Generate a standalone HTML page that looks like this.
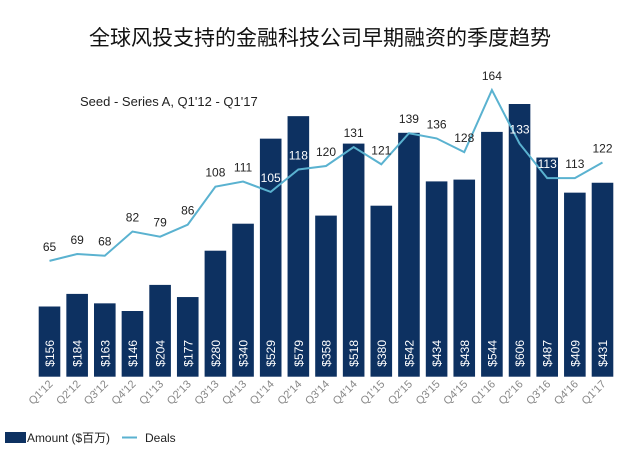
<!DOCTYPE html>
<html><head><meta charset="utf-8"><style>
body{margin:0;background:#fff;}
svg{display:block;font-family:"Liberation Sans","Noto Sans CJK SC",sans-serif;}
</style></head><body>
<svg id="c" width="640" height="455">
<text x="320" y="45" text-anchor="middle" font-size="21" fill="#111">全球风投支持的金融科技公司早期融资的季度趋势</text>
<text x="80" y="106" font-size="13" fill="#222">Seed - Series A, Q1'12 - Q1'17</text>
<g id="bars"></g><g id="line"></g><g id="xl"></g>
<rect x="5" y="432" width="21" height="11" fill="#0d3161"/>
<text x="27" y="442" font-size="12" fill="#222" textLength="83" lengthAdjust="spacingAndGlyphs">Amount ($百万)</text>
<line x1="122" y1="437.5" x2="137" y2="437.5" stroke="#5ab2d0" stroke-width="2"/>
<text x="145" y="442" font-size="12" fill="#222">Deals</text>
</svg>
<script>
const categories=["Q1'12","Q2'12","Q3'12","Q4'12","Q1'13","Q2'13","Q3'13","Q4'13","Q1'14","Q2'14","Q3'14","Q4'14","Q1'15","Q2'15","Q3'15","Q4'15","Q1'16","Q2'16","Q3'16","Q4'16","Q1'17"];
const amounts=[156,184,163,146,204,177,280,340,529,579,358,518,380,542,434,438,544,606,487,409,431];
const deals=[65,69,68,82,79,86,108,111,105,118,120,131,121,139,136,128,164,133,113,113,122];
const NS="http://www.w3.org/2000/svg";
const base=376.7;
function xc(i){return 49.5+i*27.65;}
function ya(v){return base-v*0.45;}
function yd(v){return 373-v*1.725;}
function mk(t,a,p){const e=document.createElementNS(NS,t);for(const k in a)e.setAttribute(k,a[k]);p.appendChild(e);return e;}
const gb=document.getElementById('bars'),gl=document.getElementById('line'),gx=document.getElementById('xl');
amounts.forEach((v,i)=>{
 const r=mk('rect',{x:xc(i)-10.8,y:ya(v),width:21.6,height:base-ya(v),fill:'#0d3161'},gb);
 
 
 const t=mk('text',{transform:`translate(${xc(i)+4.5},${base-10}) rotate(-90)`,'font-size':12,fill:'#fff'},gb);
 t.textContent='$'+v;
 
 
 const x=mk('text',{transform:`translate(${xc(i)+4},${base+8}) rotate(-45)`,'font-size':11,fill:'#888','text-anchor':'end'},gx);
 x.textContent=categories[i];
 
 
});
const pl=mk('polyline',{points:deals.map((d,i)=>xc(i)+','+yd(d)).join(' '),fill:'none',stroke:'#5ab2d0','stroke-width':2},gl);


deals.forEach((d,i)=>{
 const onBar=yd(d)-14>ya(amounts[i])+2;
 const t=mk('text',{x:xc(i),y:yd(d)-10,'font-size':12,fill:onBar?'#fff':'#222','text-anchor':'middle'},gl);
 t.textContent=d;
 
 
});
</script>
</body></html>
